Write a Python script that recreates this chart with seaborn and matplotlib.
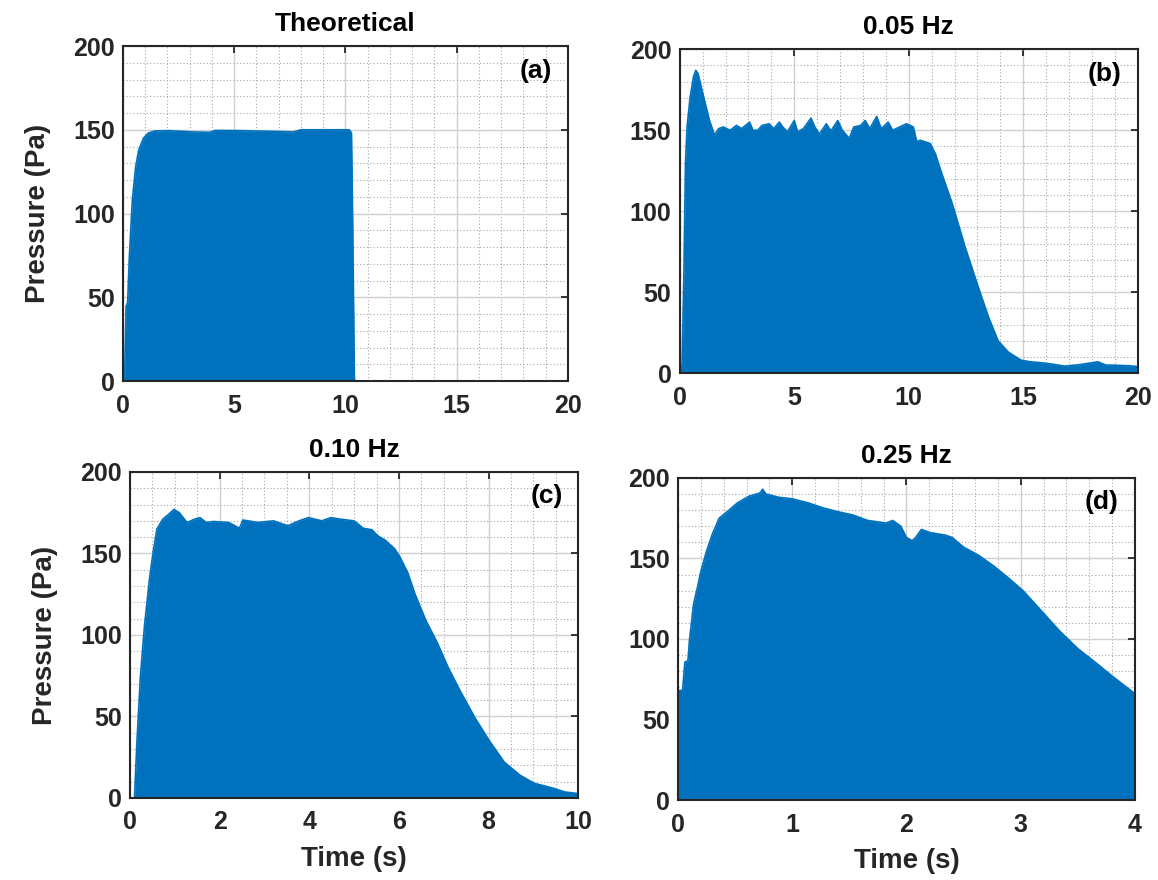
import numpy as np
import pandas as pd
import matplotlib
matplotlib.use("Agg")
import matplotlib.pyplot as plt
from matplotlib.ticker import MultipleLocator
import seaborn as sns

# ---------------- data (envelopes) ----------------
time_a = [0, 0.07, 0.14, 0.21, 0.28, 0.42, 0.57, 0.71, 0.92, 1.13, 1.42, 2.05, 3.2, 3.9,
          4.14, 5.26, 6.87, 7.67, 8.0, 10.17, 10.27, 10.32, 10.4, 10.48, 20]
pressure_a = [0, 1, 44.7, 47, 72.6, 108, 128, 138, 145, 148, 149.3, 149.5, 148.7, 148.5,
              149.6, 149.5, 149, 148.7, 150, 150, 148, 98, 1, 0, 0]

time_b = [0, 0.1, 0.18, 0.25, 0.32, 0.45, 0.6, 0.7, 0.8, 1.01, 1.3, 1.52, 1.7, 1.9, 2.2,
          2.48, 2.7, 3.05, 3.2, 3.4, 3.6, 3.9, 4.1, 4.35, 4.5, 4.7, 5.0, 5.15, 5.4, 5.73,
          5.9, 6.1, 6.4, 6.6, 6.9, 7.1, 7.4, 7.6, 7.9, 8.1, 8.3, 8.6, 8.8, 9.1, 9.3, 9.6,
          9.9, 10.2, 10.35, 10.5, 10.94, 11.16, 11.45, 11.9, 12.46, 13.04, 13.48, 13.9,
          14.35, 14.9, 15.3, 15.8, 16.3, 16.8, 17.5, 18.26, 18.6, 19.0, 19.7, 20]
pressure_b = [5, 5, 60, 130, 152, 170, 183, 187, 185, 172.6, 156, 147, 151, 152, 150,
              153, 151, 155, 150, 150, 153, 154, 151, 155, 152, 149, 156, 149, 151, 157.5,
              152, 147.6, 154, 149.6, 156, 150, 145, 152, 153, 156, 151, 158.5, 151, 155, 150, 152,
              154, 152, 143, 143.8, 141.8, 135.6, 123, 104.7, 78, 53, 34.8, 20,
              13, 8, 7, 6.4, 5.5, 4.3, 5.3, 7, 5, 4.9, 4.5, 4]

time_c = [0, 0.1, 0.15, 0.23, 0.32, 0.44, 0.525, 0.6, 0.73, 0.86, 0.98, 1.1, 1.27, 1.44,
          1.56, 1.7, 1.86, 2.2, 2.44, 2.52, 2.86, 3.2, 3.52, 3.77, 3.98, 4.28, 4.48, 4.7,
          5.0, 5.2, 5.4, 5.52, 5.7, 5.9, 6.02, 6.2, 6.36, 6.6, 6.86, 7.1, 7.36, 7.7, 8.02,
          8.35, 8.7, 9.02, 9.44, 9.7, 10]
pressure_c = [0, 0, 32.6, 74, 105, 136, 152.5, 165, 171, 174, 177, 175, 169, 171,
              172, 169, 169.6, 169, 165.5, 170.5, 169, 170, 167, 170, 172, 170, 172, 171,
              170, 165.5, 164.5, 161, 158, 153, 148, 138, 125, 109, 95, 80, 66, 49, 35,
              22, 14, 9, 6, 3.7, 2.7]

time_d = [0, 0.04, 0.06, 0.087, 0.1, 0.136, 0.17, 0.2, 0.25, 0.3, 0.36, 0.43, 0.52, 0.62,
          0.72, 0.74, 0.77, 0.88, 1.0, 1.14, 1.27, 1.4, 1.53, 1.66, 1.82, 1.88, 1.95, 2.0,
          2.05, 2.08, 2.13, 2.21, 2.34, 2.4, 2.5, 2.63, 2.76, 2.89, 3.02, 3.18, 3.34, 3.5,
          3.67, 3.8, 3.89, 4.0]
pressure_d = [68, 68, 85.6, 86.6, 99, 121.6, 132, 142, 154.6, 165, 175, 179, 184.5, 188.6,
              190.7, 193, 190, 188, 187, 184.5, 181.4, 179, 177, 173.6, 172, 173.6, 170, 163,
              161, 163, 168, 166, 164.5, 163, 157, 152, 145.5, 138, 130, 117.5, 105, 94,
              84.5, 77, 72, 66]

titles = ["Theoretical", "0.05 Hz", "0.10 Hz", "0.25 Hz"]
panel_tags = ["(a)", "(b)", "(c)", "(d)"]
x_limits = [20, 20, 10, 4]
x_major = [5, 5, 2, 1]
x_minor = [1, 1, 0.5, 0.2]
y_ticks = [0, 50, 100, 150, 200]

series = [(time_a, pressure_a), (time_b, pressure_b), (time_c, pressure_c), (time_d, pressure_d)]

# ---------------- style ----------------
sns.set_theme(style="white")
plt.rcParams["font.family"] = ["Liberation Sans", "DejaVu Sans"]
plt.rcParams["font.weight"] = "bold"
TXT = "#262626"
BLUE = "#0072BD"

fig = plt.figure(figsize=(11.58, 8.8), dpi=100)
positions = [
    [0.1062, 0.567, 0.3843, 0.3807],
    [0.587, 0.576, 0.3955, 0.368],
    [0.1123, 0.0932, 0.387, 0.3705],
    [0.5855, 0.0909, 0.3946, 0.366],
]

for i, (pos, (t, p)) in enumerate(zip(positions, series)):
    ax = fig.add_axes(pos)
    df = pd.DataFrame({"Time (s)": t, "Pressure (Pa)": p})
    ax.fill_between(df["Time (s)"], 0, df["Pressure (Pa)"], color=BLUE, linewidth=0, zorder=2)
    sns.lineplot(data=df, x="Time (s)", y="Pressure (Pa)", ax=ax, color=BLUE,
                 linewidth=1.2, zorder=3)
    ax.set_xlim(0, x_limits[i])
    ax.set_ylim(0, 200)
    ax.xaxis.set_major_locator(MultipleLocator(x_major[i]))
    ax.xaxis.set_minor_locator(MultipleLocator(x_minor[i]))
    ax.set_yticks(y_ticks)
    ax.yaxis.set_minor_locator(MultipleLocator(10))
    ax.set_axisbelow(True)
    ax.grid(which="major", color="#d0d0d0", linewidth=1.0, linestyle="-")
    ax.grid(which="minor", color="#a8a8a8", linewidth=0.8, linestyle=(0, (1, 2)))
    ax.tick_params(which="major", direction="in", length=5, width=1.3, color=TXT,
                   top=True, right=True, labelsize=18, labelcolor=TXT)
    ax.tick_params(axis="x", which="major", pad=9)
    ax.tick_params(axis="y", which="major", pad=6)
    ax.tick_params(which="minor", length=0, top=True, right=True)
    for lbl in ax.get_xticklabels() + ax.get_yticklabels():
        lbl.set_fontweight("bold")
    for sp in ax.spines.values():
        sp.set_color(TXT)
        sp.set_linewidth(1.5)
        sp.set_zorder(5)
    ax.set_title(titles[i], fontsize=19, fontweight="bold", color="black", pad=11)
    ax.text(0.965, 0.925, panel_tags[i], transform=ax.transAxes, ha="right", va="center",
            fontsize=19, fontweight="bold", color="black", zorder=6)
    if i in (0, 2):
        ax.set_ylabel("Pressure (Pa)", fontsize=20, fontweight="bold", color=TXT, labelpad=16)
    else:
        ax.set_ylabel("")
    if i in (2, 3):
        ax.set_xlabel("Time (s)", fontsize=20, fontweight="bold", color=TXT, labelpad=8)
    else:
        ax.set_xlabel("")

fig.savefig("out.png", dpi=100, facecolor="white")
